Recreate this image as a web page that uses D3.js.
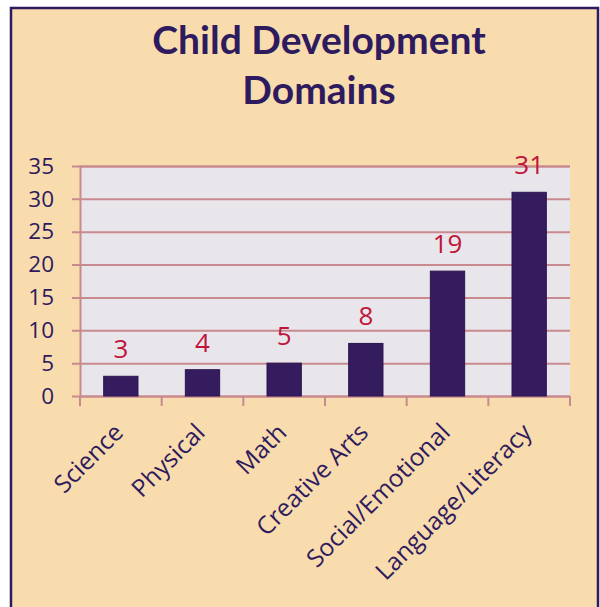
<!DOCTYPE html>
<html>
<head>
<meta charset="utf-8">
<script src="https://cdn.jsdelivr.net/npm/d3@7"></script>
<style>
body { margin: 0; background: #fff; }
svg { display: block; }
</style>
</head>
<body>
<div class="chart"></div>
<script>
// data
var categories = ["Science", "Physical", "Math", "Creative Arts", "Social/Emotional", "Language/Literacy"];
var counts = [3, 4, 5, 8, 19, 31];
var yTicks = [0, 5, 10, 15, 20, 25, 30, 35];
var titleLines = ["Child Development", "Domains"];

var width = 600, height = 607;
var purple = "#2e1a5e", rose = "#c98a8f";

var svg = d3.select(".chart").append("svg")
  .attr("width", width)
  .attr("height", height);

// frame
svg.append("rect")
  .attr("x", 11).attr("y", 8)
  .attr("width", 587).attr("height", 640)
  .attr("fill", "#f9dcad")
  .attr("stroke", purple)
  .attr("stroke-width", 2.5);

svg.selectAll(".title")
  .data(titleLines)
  .enter().append("text")
  .attr("class", "title")
  .attr("x", 319)
  .attr("y", function(d, i) { return 54 + i * 50; })
  .attr("text-anchor", "middle")
  .attr("font-family", "Lato")
  .attr("font-weight", "bold")
  .attr("font-size", "39px")
  .attr("fill", purple)
  .text(function(d) { return d; });

var x = d3.scaleBand()
  .domain(categories)
  .range([80, 570])
  .paddingInner(0.58)
  .paddingOuter(0.29);

var xb = d3.scaleBand().domain(categories).range([80, 570]);

var y = d3.scaleLinear()
  .domain([0, 35])
  .range([396, 166]);

svg.append("rect")
  .attr("x", 80).attr("y", y(35))
  .attr("width", 490).attr("height", y(0) - y(35))
  .attr("fill", "#e8e6ea");

// gridlines + y axis
var yAxis = svg.append("g")
  .attr("transform", "translate(80,0)")
  .call(d3.axisLeft(y).tickValues(yTicks).tickSize(-490).tickPadding(26));
yAxis.select(".domain").attr("stroke", rose).attr("stroke-width", 2);
yAxis.selectAll(".tick line").attr("stroke", rose).attr("stroke-width", 2).attr("x1", -8);
yAxis.selectAll(".tick text")
  .attr("font-family", "Open Sans")
  .attr("font-size", "22.5px")
  .attr("fill", purple);

// x axis ticks at the category boundaries
var bounds = categories.map(function(c) { return xb(c); }).concat([570]);
svg.selectAll(".xtick")
  .data(bounds)
  .enter().append("line")
  .attr("x1", function(d) { return d; })
  .attr("x2", function(d) { return d; })
  .attr("y1", y(0))
  .attr("y2", y(0) + 10)
  .attr("stroke", rose)
  .attr("stroke-width", 2);

svg.selectAll(".bar")
  .data(counts)
  .enter().append("rect")
  .attr("class", "bar")
  .attr("x", function(d, i) { return x(categories[i]); })
  .attr("y", function(d) { return y(d); })
  .attr("width", x.bandwidth())
  .attr("height", function(d) { return y(0) - y(d); })
  .attr("fill", "#341c5f")
  .attr("stroke", "#2a1550")
  .attr("stroke-width", 1);

svg.selectAll(".val")
  .data(counts)
  .enter().append("text")
  .attr("class", "val")
  .attr("x", function(d, i) { return xb(categories[i]) + xb.bandwidth() / 2; })
  .attr("y", function(d) { return y(d) - 18; })
  .attr("text-anchor", "middle")
  .attr("font-family", "Open Sans")
  .attr("font-size", "26px")
  .attr("fill", "#c0143c")
  .text(function(d) { return d; });

svg.selectAll(".xlab")
  .data(categories)
  .enter().append("text")
  .attr("class", "xlab")
  .attr("transform", function(d) {
    var cx = xb(d) + xb.bandwidth() / 2 + 4;
    return "translate(" + cx + "," + 434 + ") rotate(-45)";
  })
  .attr("text-anchor", "end")
  .attr("font-family", "Open Sans")
  .attr("font-size", "24.5px")
  .attr("fill", purple)
  .text(function(d) { return d; });
</script>
</body>
</html>
